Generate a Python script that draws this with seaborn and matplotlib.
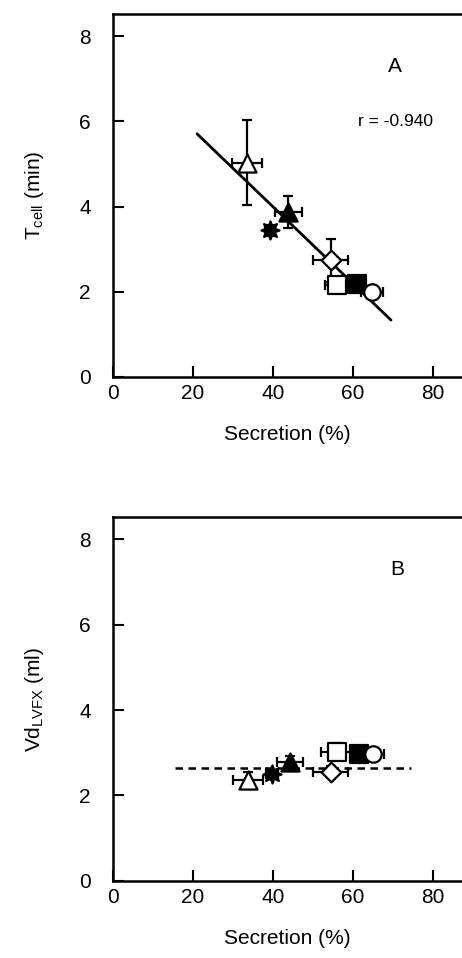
import matplotlib
matplotlib.use("Agg")
import matplotlib.pyplot as plt
import numpy as np
import pandas as pd
import seaborn as sns

# symbols, one per preparation
symbols = ["tri_open", "tri_filled", "star", "diamond_open", "square_open", "square_filled", "circle_open"]
filled = ["open", "filled", "filled", "open", "open", "filled", "open"]

# panel A: T_cell vs secretion
a_x = [33.5, 43.8, 39.3, 54.4, 55.9, 61.0, 64.7]
a_xerr = [3.7, 3.4, 1.3, 4.3, 3.0, 1.8, 2.7]
a_y = [5.03, 3.87, 3.44, 2.74, 2.15, 2.19, 2.00]
a_yerr = [1.0, 0.38, 0.12, 0.5, 0.15, 0.12, 0.1]
a_fit_x = [21.0, 69.5]

# panel B: Vd_LVFX vs secretion
b_x = [33.8, 44.2, 39.7, 54.4, 55.9, 61.4, 65.1]
b_xerr = [3.7, 3.3, 1.5, 4.3, 3.8, 1.8, 2.7]
b_y = [2.35, 2.78, 2.50, 2.55, 3.02, 2.98, 2.96]
b_yerr = [0.2, 0.15, 0.1, 0.15, 0.2, 0.12, 0.12]
b_mean_x = [15.5, 74.5]
b_mean_y = 2.64

markers = {"tri_open": "^", "tri_filled": "^", "star": (8, 1, 0), "diamond_open": "D",
           "square_open": "s", "square_filled": "s", "circle_open": "o"}
sizes = {"tri_open": 170, "tri_filled": 170, "star": 170, "diamond_open": 100,
         "square_open": 150, "square_filled": 150, "circle_open": 140}

sns.set_style("ticks")
plt.rcParams["font.family"] = ["Liberation Sans", "DejaVu Sans"]
plt.rcParams["mathtext.default"] = "regular"
plt.rcParams.update({"axes.edgecolor": "black", "text.color": "black",
                     "xtick.color": "black", "ytick.color": "black",
                     "axes.labelcolor": "black"})

fig = plt.figure(figsize=(4.62, 9.58), dpi=100)
ax_a = fig.add_axes([0.2446, 0.6065, 0.7554, 0.3789])
ax_b = fig.add_axes([0.2446, 0.0806, 0.7554, 0.3797])


def draw_panel(ax, xs, xerr, ys, yerr):
    df = pd.DataFrame({"x": xs, "y": ys, "sym": symbols, "fill": filled})
    ax.errorbar(df["x"], df["y"], xerr=xerr, yerr=yerr, fmt="none",
                ecolor="black", elinewidth=1.6, capsize=3.6, capthick=1.6, zorder=2)
    for s in symbols:
        sub = df[df["sym"] == s]
        sns.scatterplot(data=sub, x="x", y="y", hue="fill",
                        palette={"open": "white", "filled": "black"},
                        marker=markers[s], s=sizes[s], edgecolor="black",
                        linewidth=1.6, legend=False, ax=ax, zorder=3)


def style_axes(ax, ylabel):
    ax.set_xlim(0, 87.25)
    ax.set_ylim(0, 8.52)
    ax.set_xticks([0, 20, 40, 60, 80])
    ax.set_yticks([0, 2, 4, 6, 8])
    ax.tick_params(direction="in", length=8, width=1.5, labelsize=15)
    ax.tick_params(axis="x", pad=5)
    ax.tick_params(axis="y", pad=16)
    for side in ["left", "bottom", "top"]:
        ax.spines[side].set_linewidth(1.8)
        ax.spines[side].set_visible(True)
    ax.spines["right"].set_visible(False)
    ax.set_xlabel("Secretion (%)", fontsize=15, labelpad=16)
    ax.set_ylabel(ylabel, fontsize=15, labelpad=24)


draw_panel(ax_a, a_x, a_xerr, a_y, a_yerr)
k, b0 = np.polyfit(a_x, a_y, 1)
fit_x = np.array(a_fit_x)
sns.lineplot(x=fit_x, y=k * fit_x + b0, color="black", linewidth=2, ax=ax_a, zorder=1)
ax_a.text(70.5, 7.29, "A", fontsize=15, ha="center", va="center")
ax_a.text(70.5, 6.0, "r = -0.940", fontsize=12.5, ha="center", va="center")
style_axes(ax_a, "T$_{cell}$ (min)")

draw_panel(ax_b, b_x, b_xerr, b_y, b_yerr)
mean_x = np.array(b_mean_x)
sns.lineplot(x=mean_x, y=[b_mean_y] * 2, color="black", linewidth=1.8,
             linestyle=(0, (3, 2.2)), ax=ax_b, zorder=1)
ax_b.text(71, 7.29, "B", fontsize=15, ha="center", va="center")
style_axes(ax_b, "Vd$_{LVFX}$ (ml)")

fig.savefig("out.png", dpi=100, facecolor="white")
